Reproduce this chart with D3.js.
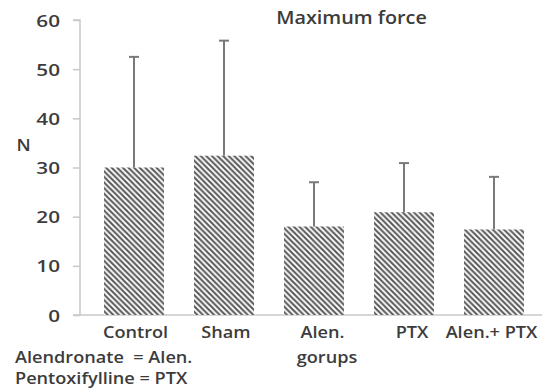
<!DOCTYPE html>
<html>
<head>
<meta charset="utf-8">
<script src="https://cdn.jsdelivr.net/npm/d3@7"></script>
<style>
  html, body { margin: 0; padding: 0; background: #fff; }
  svg text { font-family: "Open Sans", "Noto Sans", sans-serif; fill: #3c3c3c; font-weight: 600; }
</style>
</head>
<body>
<svg id="chart" width="542" height="389"></svg>
<script>
// Maximum force by treatment group (mean with upper SD bar)
const categories = ["Control", "Sham", "Alen.", "PTX", "Alen.+ PTX"];
const meanForce = [30.0, 32.4, 18.0, 20.9, 17.4];
const upperError = [52.5, 55.8, 27.0, 30.9, 28.1];
const yTicks = [0, 10, 20, 30, 40, 50, 60];
const footnotes = ["Alendronate  = Alen.", "Pentoxifylline = PTX"];

const svg = d3.select("#chart");

const y = d3.scaleLinear().domain([0, 60]).range([315, 20]);
const x = d3.scaleBand().domain(categories).range([89, 539])
  .paddingInner(1 / 3).paddingOuter(1 / 6);

// Text in a slightly wide face: placed by translate, widened by scaleX
function wideText(parent, px, py, str, size, anchor, sx) {
  return parent.append("text")
    .attr("transform", `translate(${px},${py}) scale(${sx || 1.1},1)`)
    .attr("text-anchor", anchor || "start")
    .attr("xml:space", "preserve")
    .style("font-size", size + "px")
    .text(str);
}

// Downward diagonal hatch fill
const defs = svg.append("defs");
const pat = defs.append("pattern")
  .attr("id", "hatch")
  .attr("patternUnits", "userSpaceOnUse")
  .attr("width", 5.6).attr("height", 5.6);
pat.append("rect").attr("width", 5.6).attr("height", 5.6).attr("fill", "#fafafa");
pat.append("path")
  .attr("d", "M-1,-1 L6.6,6.6 M-1,4.6 L1,6.6 M4.6,-1 L6.6,1")
  .attr("stroke", "#555").attr("stroke-width", 1.9);

// Y axis
const yAxis = d3.axisLeft(y).tickValues(yTicks).tickSize(7).tickPadding(8);
const gy = svg.append("g").attr("transform", "translate(80,0)").call(yAxis);
gy.select(".domain").attr("stroke", "#c8c8c8").attr("stroke-width", 1.5)
  .attr("d", `M-7,${y(60)}H0V${y(0)}`);
gy.selectAll(".tick line").attr("stroke", "#c8c8c8").attr("stroke-width", 1.5);
gy.selectAll(".tick text")
  .attr("x", null).attr("dy", "0.36em")
  .attr("transform", "translate(-20,0) scale(1.22,1)")
  .attr("fill", "#3c3c3c")
  .style("font-size", "17px").style("font-weight", 600)
  .style("font-family", "'Open Sans', sans-serif");

// Baseline
svg.append("line")
  .attr("x1", 73).attr("x2", 542)
  .attr("y1", y(0)).attr("y2", y(0))
  .attr("stroke", "#c8c8c8").attr("stroke-width", 1.5);

// Bars
svg.selectAll("rect.bar").data(categories).enter().append("rect")
  .attr("class", "bar")
  .attr("x", d => x(d))
  .attr("width", x.bandwidth())
  .attr("y", (d, i) => y(meanForce[i]))
  .attr("height", (d, i) => y(0) - y(meanForce[i]))
  .attr("fill", "url(#hatch)");

// Error bars
const eb = svg.selectAll("g.err").data(categories).enter().append("g").attr("class", "err");
eb.append("line")
  .attr("x1", d => x(d) + x.bandwidth() / 2)
  .attr("x2", d => x(d) + x.bandwidth() / 2)
  .attr("y1", (d, i) => y(meanForce[i]))
  .attr("y2", (d, i) => y(upperError[i]))
  .attr("stroke", "#7a7a7a").attr("stroke-width", 2);
eb.append("line")
  .attr("x1", d => x(d) + x.bandwidth() / 2 - 5)
  .attr("x2", d => x(d) + x.bandwidth() / 2 + 5)
  .attr("y1", (d, i) => y(upperError[i]))
  .attr("y2", (d, i) => y(upperError[i]))
  .attr("stroke", "#7a7a7a").attr("stroke-width", 2);

// Category labels
const labelDx = [1.5, 2, 8.5, 8, -2.5];
categories.forEach((c, i) => {
  wideText(svg, x(c) + x.bandwidth() / 2 + labelDx[i], 338, c, 16.5, "middle");
});

// Axis titles
wideText(svg, 327, 363, "gorups", 16.5, "middle");
wideText(svg, 23.5, 150.5, "N", 16.5, "middle");

// Chart title
wideText(svg, 351.5, 23.5, "Maximum force", 18, "middle");

// Abbreviation notes
footnotes.forEach((t, i) => {
  wideText(svg, 15, 362.5 + i * 21, t, 16.5, "start");
});
</script>
</body>
</html>
